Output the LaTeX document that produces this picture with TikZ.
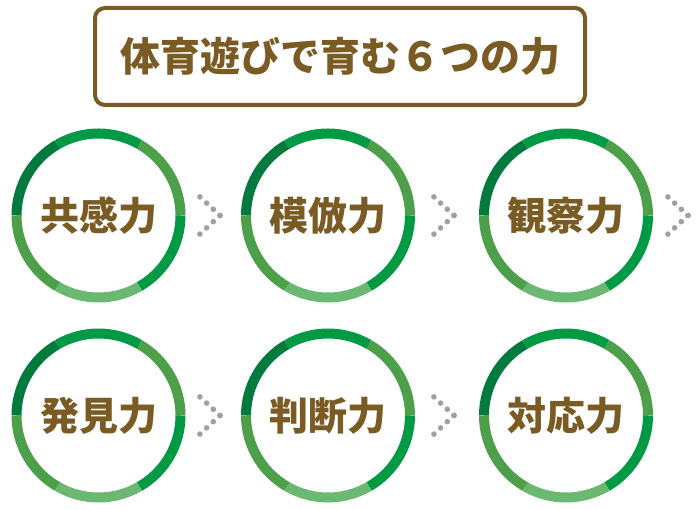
\documentclass[tikz,border=0pt]{standalone}
\usepackage{fontspec}
\newfontfamily\jpfont{Noto Sans CJK JP}

\definecolor{titlebrown}{HTML}{7B5B24}
\definecolor{ringdark}{HTML}{007A3D}
\definecolor{ringbright}{HTML}{009A44}
\definecolor{ringmid}{HTML}{4E9F4A}
\definecolor{ringlight}{HTML}{6BB872}
\definecolor{dotgray}{HTML}{A0A0A0}

\tikzset{
  power/.style={circle, inner sep=0pt, outer sep=0pt, minimum size=164pt,
    text=titlebrown, font=\jpfont\bfseries\fontsize{39pt}{39pt}\selectfont},
  ringseg/.style={line width=10pt},
  chevdot/.style={fill=dotgray},
}

\begin{document}
\begin{tikzpicture}[x=1pt,y=1pt]
  \useasboundingbox (0,0) rectangle (700,510);

  % title
  \node [draw=titlebrown, line width=4pt, rounded corners=10pt, minimum width=490pt, minimum height=97pt,
    text=titlebrown, font=\jpfont\bfseries\fontsize{40pt}{40pt}\selectfont] (title) at (340,453.5) {体育遊びで育む６つの力};

  % the six powers
  \node [power] (kyokan) at (98.5,294.5) {共感力};
  \node [power] (mohou) at (328,294.5) {模倣力};
  \node [power] (kansatsu) at (566,294.5) {観察力};
  \node [power] (hakken) at (98.5,94.5) {発見力};
  \node [power] (handan) at (328,94.5) {判断力};
  \node [power] (taiou) at (566,94.5) {対応力};

  \foreach \n in {kyokan,mohou,kansatsu,hakken,handan,taiou}
    \foreach \s/\c in {180/ringdark,120/ringbright,60/ringmid,0/ringbright,-60/ringlight,-120/ringmid}
      \draw [ringseg,color=\c] (\n.center) ++(\s:82pt) arc (\s:\s-60:82pt);

  % dotted chevrons
  \coordinate (chevA) at (220,294.5);
  \coordinate (chevB) at (454,294.5);
  \coordinate (chevC) at (688,294.5);
  \coordinate (chevD) at (220,94.5);
  \coordinate (chevE) at (454,94.5);

  \foreach \c in {chevA,chevB,chevC,chevD,chevE}
    \foreach \i in {0,...,3} {
      \fill [chevdot] (\c) ++(-\i*6.7,\i*6.2) circle (2.8pt);
      \fill [chevdot] (\c) ++(-\i*6.7,-\i*6.2) circle (2.8pt);
    }
\end{tikzpicture}
\end{document}
